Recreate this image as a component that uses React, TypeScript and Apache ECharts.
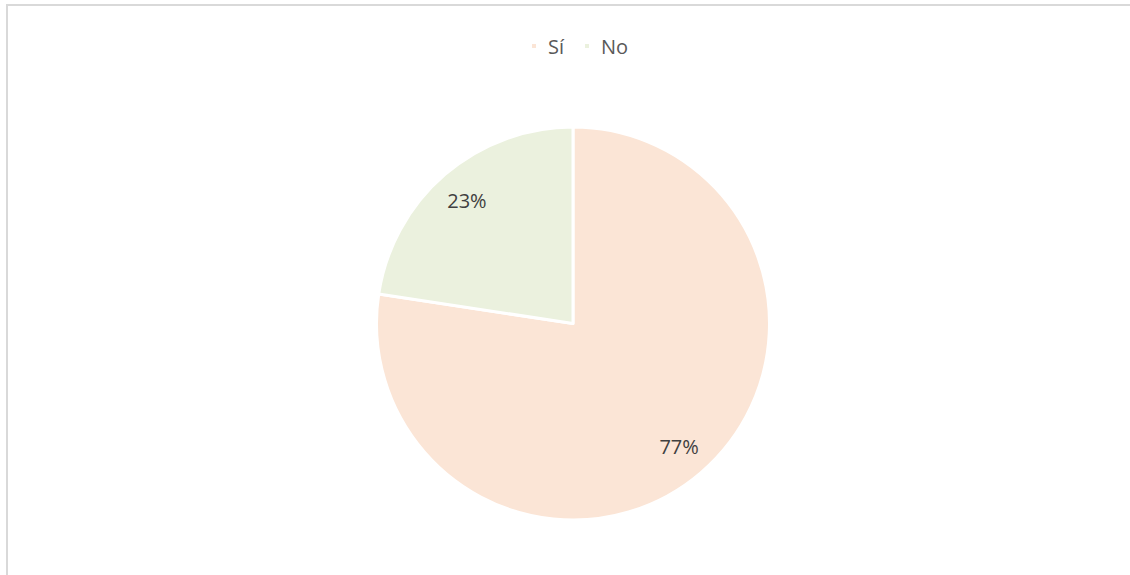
import React, { useEffect, useRef } from "react";
import * as echarts from "echarts";

const categories = ["Sí", "No"];
const values = [77.4, 22.6];
const colors = ["#FBE5D6", "#EBF1DE"];

const FONT = "'Open Sans', 'Noto Sans', sans-serif";

export default function App() {
  const ref = useRef<HTMLDivElement>(null);
  useEffect(() => {
    if (!ref.current) return;
    const chart = echarts.init(ref.current, null, { renderer: "svg" });
    const data = categories.map((name, i) => ({
      name,
      value: values[i],
      itemStyle: { color: colors[i] },
    }));
    chart.setOption({
      animation: false,
      legend: {
        data: categories,
        top: 31,
        left: 525,
        icon: "rect",
        itemWidth: 6,
        itemHeight: 6,
        itemGap: 19,
        textStyle: {
          fontFamily: FONT,
          fontSize: 20,
          color: "#595959",
          padding: [0, 0, 0, 6],
        },
      },
      series: [
        {
          type: "pie",
          center: [573, 323.5],
          radius: [0, 196.5],
          startAngle: 90,
          clockwise: true,
          silent: true,
          label: { show: false },
          labelLine: { show: false },
          itemStyle: { borderColor: "#ffffff", borderWidth: 3 },
          data,
        },
        {
          type: "pie",
          center: [573, 323.5],
          radius: [123, 196.5],
          startAngle: 90,
          clockwise: true,
          silent: true,
          legendHoverLink: false,
          itemStyle: { color: "rgba(0,0,0,0)", borderWidth: 0 },
          label: {
            show: true,
            position: "inside",
            formatter: (p: any) => Math.round(p.percent) + "%",
            fontFamily: FONT,
            fontSize: 20,
            color: "#404040",
          },
          labelLine: { show: false },
          data: categories.map((name, i) => ({ name, value: values[i] })),
        },
      ],
    });
    return () => chart.dispose();
  }, []);
  return (
    <div style={{ position: "fixed", left: 0, top: 0, width: 1130, height: 575, background: "#fff", overflow: "hidden" }}>
      <div
        style={{
          position: "absolute",
          left: 6,
          top: 4,
          width: 1200,
          height: 700,
          border: "2px solid #d9d9d9",
          boxSizing: "border-box",
        }}
      />
      <div ref={ref} style={{ position: "absolute", left: 0, top: 0, width: 1130, height: 575 }} />
    </div>
  );
}
